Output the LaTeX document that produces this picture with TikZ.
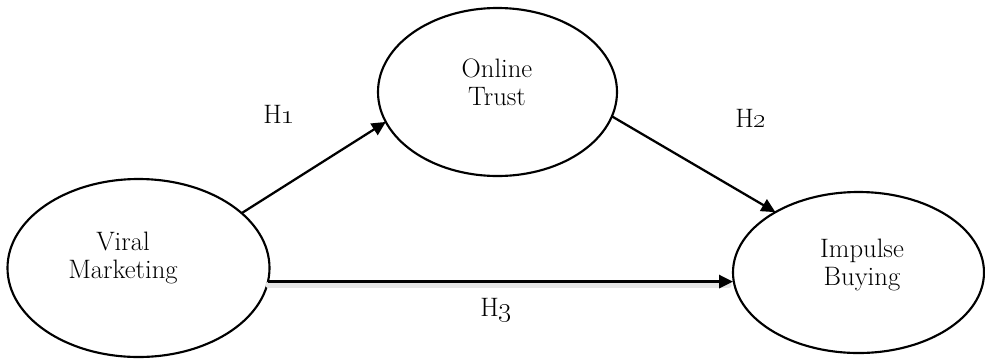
\documentclass[tikz,border=0pt]{standalone}
\usetikzlibrary{shapes.geometric,arrows.meta}
\tikzset{
  x=0.75pt, y=-0.75pt,
  construct/.style={ellipse, draw=black, line width=1.6pt, inner sep=0pt, outer sep=0pt},
  lbl/.style={font=\fontsize{20}{21}\selectfont, align=center, anchor=base, inner sep=0pt},
  hyp/.style={font=\fontsize{20}{21}\selectfont, anchor=base, inner sep=0pt},
  arr/.style={line width=1.7pt, -{Triangle[length=10.5pt,width=10pt]}},
  shadowline/.style={line width=4pt, black!10, line cap=round}
}
\begin{document}
\begin{tikzpicture}
\useasboundingbox (0,0) rectangle (985,358);
% constructs
\node[construct, minimum width=196.5pt, minimum height=133.5pt] (vm) at (138.5,268) {};
\node[construct, minimum width=179.25pt, minimum height=126pt] (ot) at (497.5,92) {};
\node[construct, minimum width=188.25pt, minimum height=120.75pt] (ib) at (858.5,272.5) {};
% texts (anchor = baseline of last line)
\node[lbl] (vmt) at (123,278) {Viral\\Marketing};
\node[lbl] (ott) at (497,105) {Online\\Trust};
\node[lbl] (ibt) at (862,285) {Impulse\\Buying};
% connectors
\coordinate (h3s) at (vm.-6.6);
\coordinate (h3e) at (h3s -| ib.west);
\draw[shadowline, transform canvas={yshift=-2.5pt}] (h3s) -- ([xshift=-3pt]h3e);
\draw[arr] (vm.28.6) -- (ot.195.3);
\draw[arr] (ot.-12) -- (ib.144.9);
\draw[arr] (h3s) -- (h3e);
% hypothesis labels
\node[hyp] (h1) at (279,123) {H\oldstylenums{1}};
\node[hyp] (h2) at (751,127) {H\oldstylenums{2}};
\node[hyp] (h3) at (496,316) {H\oldstylenums{3}};
\end{tikzpicture}
\end{document}
